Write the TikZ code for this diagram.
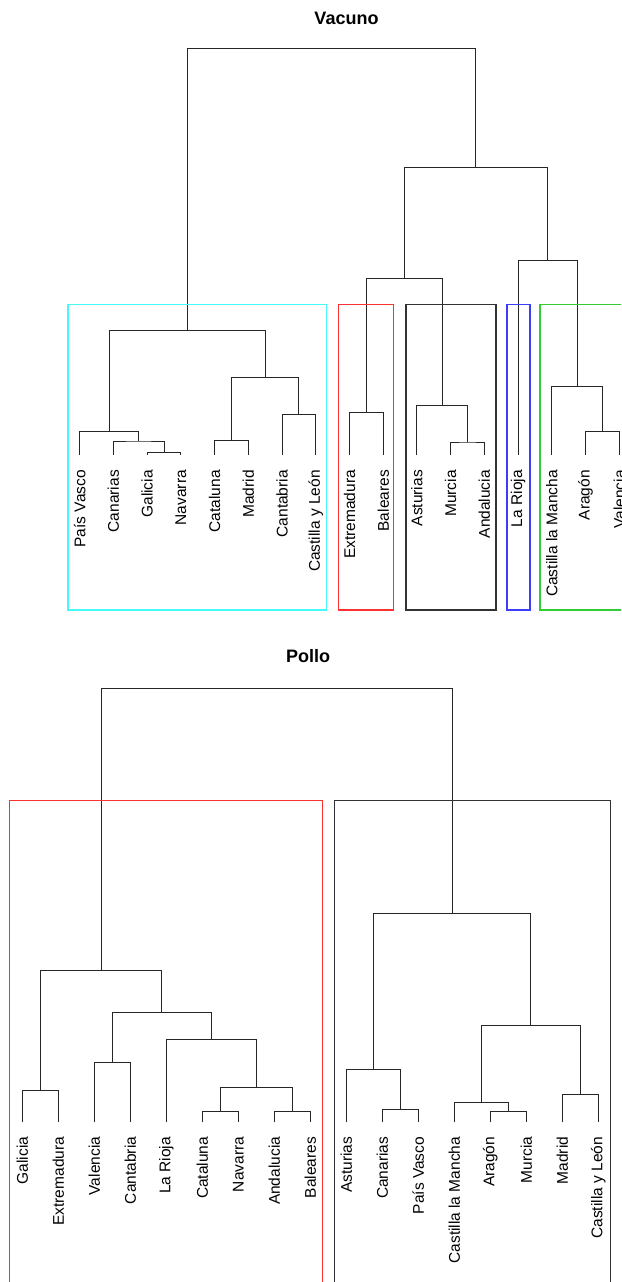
\documentclass[tikz,border=0pt]{standalone}
\usepackage{fontspec}
\setmainfont{Liberation Sans}
\usetikzlibrary{calc}
\definecolor{bxcyan}{RGB}{70,250,250}
\definecolor{bxred}{RGB}{250,50,50}
\definecolor{bxblue}{RGB}{60,60,250}
\definecolor{bxgreen}{RGB}{50,205,50}
\newcommand\mrg[4]{%
  \path ($(#2)!.5!(#3)$) coordinate (#1c);
  \coordinate (#1) at (#1c |- 0,#4);
  \draw[tree] (#2) |- (#1) -| (#3);}
\begin{document}
\begin{tikzpicture}[x=1pt,y=-1pt,
  tree/.style={draw=black!85,line width=1pt},
  lbl/.style={rotate=90,anchor=east,inner sep=0pt,font=\fontsize{15.5}{18}\selectfont},
  ttl/.style={font=\bfseries\fontsize{18}{20}\selectfont,inner sep=0pt},
  clbox/.style={line width=1.1pt}]
\useasboundingbox (0,0) rectangle (621,1282);
\clip (0,0) rectangle (621,1282);

% ---------------- Vacuno ----------------
\node[ttl] (tv) at (346.5,18.5) {Vacuno};
\foreach \n/\t [count=\i from 0] in {pv/País Vasco,can/Canarias,gal/Galicia,nav/Navarra,cat/Cataluna,mad/Madrid,cant/Cantabria,cyl/Castilla y León,ext/Extremadura,bal/Baleares,ast/Asturias,mur/Murcia,and/Andalucia,lar/La Rioja,clm/Castilla la Mancha,ara/Aragón,val/Valencia}{
  \coordinate (v\n) at ({79.7+33.725*\i},455);
  \node[lbl] (vl\n) at ({79.7+33.725*\i},470) {\t};
}
\mrg{vGN}{vgal}{vnav}{452.7}
\mrg{vCGN}{vcan}{vGN}{441}
\mrg{vPVC}{vpv}{vCGN}{431.7}
\mrg{vCM}{vcat}{vmad}{440.7}
\mrg{vCC}{vcant}{vcyl}{414.7}
\mrg{vCMCC}{vCM}{vCC}{377.3}
\mrg{vL}{vPVC}{vCMCC}{330.7}
\mrg{vEB}{vext}{vbal}{412.3}
\mrg{vMA}{vmur}{vand}{442}
\mrg{vAMA}{vast}{vMA}{405.7}
\mrg{vEBAMA}{vEB}{vAMA}{278.7}
\mrg{vAV}{vara}{vval}{431.7}
\mrg{vCAV}{vclm}{vAV}{386.3}
\mrg{vLCAV}{vlar}{vCAV}{260.7}
\mrg{vR}{vEBAMA}{vLCAV}{167.7}
\mrg{vRoot}{vL}{vR}{48.7}

\draw[clbox,bxcyan] (68,304.7) rectangle (326.7,610);
\draw[clbox,bxred] (338.3,304.7) rectangle (393.7,610);
\draw[clbox,black!80] (406,304.7) rectangle (496,610);
\draw[clbox,bxblue] (507,304.7) rectangle (530,610);
\draw[clbox,bxgreen] (540,304.7) rectangle (700,610);

% ---------------- Pollo ----------------
\node[ttl] (tp) at (308,656) {Pollo};
\foreach \n/\t [count=\i from 0] in {gal/Galicia,ext/Extremadura,val/Valencia,cant/Cantabria,lar/La Rioja,cat/Cataluna,nav/Navarra,and/Andalucia,bal/Baleares,ast/Asturias,can/Canarias,pv/País Vasco,clm/Castilla la Mancha,ara/Aragón,mur/Murcia,mad/Madrid,cyl/Castilla y León}{
  \coordinate (p\n) at ({22.3+36*\i},1122.3);
  \node[lbl] (pl\n) at ({22.3+36*\i},1136.7) {\t};
}
\mrg{pGE}{pgal}{pext}{1090}
\mrg{pVC}{pval}{pcant}{1062.7}
\mrg{pCN}{pcat}{pnav}{1111}
\mrg{pAB}{pand}{pbal}{1111}
\mrg{pCNAB}{pCN}{pAB}{1087.3}
\mrg{pLR}{plar}{pCNAB}{1039.3}
\mrg{pVCLR}{pVC}{pLR}{1012.7}
\mrg{pL}{pGE}{pVCLR}{970}
\mrg{pCP}{pcan}{ppv}{1109.7}
\mrg{pACP}{past}{pCP}{1069.3}
\mrg{pAM}{para}{pmur}{1111}
\mrg{pCAM}{pclm}{pAM}{1102.7}
\mrg{pMC}{pmad}{pcyl}{1094.3}
\mrg{pCAMMC}{pCAM}{pMC}{1025.3}
\mrg{pR}{pACP}{pCAMMC}{913.7}
\mrg{pRoot}{pL}{pR}{688.7}

\draw[clbox,bxred] (9.9,800.3) rectangle (322.4,1300);
\draw[clbox,black!80] (334.5,800.3) rectangle (610.7,1300);
\end{tikzpicture}
\end{document}
